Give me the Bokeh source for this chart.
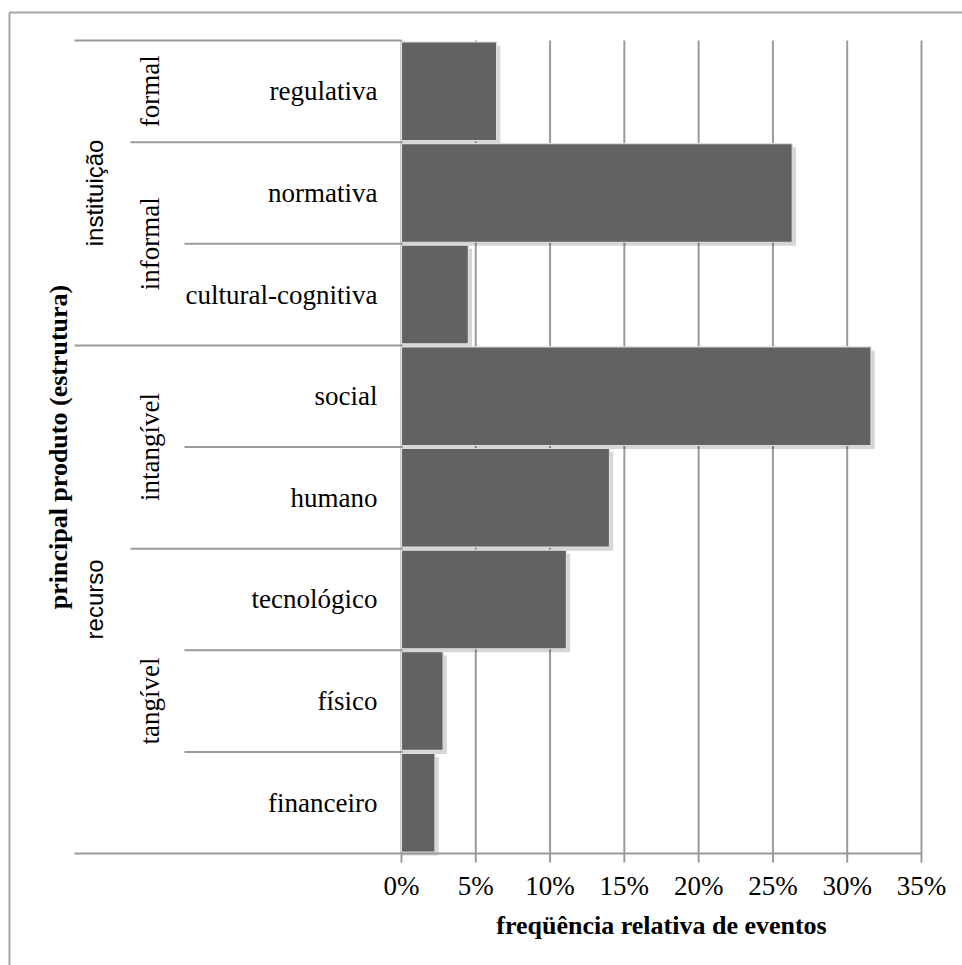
import math
from bokeh.plotting import figure
from bokeh.models import Range1d
from bokeh.core.properties import value
from bokeh.embed import file_html
from bokeh.resources import INLINE

# ---------------- data ----------------
categories = ["regulativa", "normativa", "cultural-cognitiva", "social",
              "humano", "tecnológico", "físico", "financeiro"]
values = [6.4, 26.3, 4.5, 31.6, 14.0, 11.1, 2.8, 2.25]   # % of events
subgroups = ["formal", "informal", "informal", "intangível",
             "intangível", "tangível", "tangível", "tangível"]
groups = ["instituição", "instituição", "instituição",
          "recurso", "recurso", "recurso", "recurso", "recurso"]
tick_values = [0, 5, 10, 15, 20, 25, 30, 35]
tick_labels = ["0%", "5%", "10%", "15%", "20%", "25%", "30%", "35%"]
x_title = "freqüência relativa de eventos"
y_title = "principal produto (estrutura)"

# ---------------- layout (pixels of the 962x965 page) ----------------
W, H = 962, 965
AX_L = 74            # left end of the category area
X0, X35 = 401, 921   # px of 0 % and of the last tick
ROW_T, ROW_B = 40, 853
XMAX = tick_values[-1]
n = len(categories)
ppu = (X35 - X0) / XMAX
ppr = (ROW_B - ROW_T) / n


def dx(px):
    return (px - X0) / ppu


def dy(py):
    return (ROW_B - py) / ppr


GRID = "#9a9a9a"
SERIF = "Liberation Serif"

p = figure(width=W, height=H,
           x_range=Range1d(dx(0), dx(W)), y_range=Range1d(dy(H), dy(0)),
           output_backend="svg", toolbar_location=None,
           x_axis_location=None, y_axis_location=None, min_border=0)
p.outline_line_color = None
p.grid.visible = False
p.background_fill_color = "white"
p.border_fill_color = "white"

# vertical grid lines at the ticks
p.segment(x0=tick_values, y0=[0] * len(tick_values), x1=tick_values,
          y1=[n] * len(tick_values), line_color=GRID, line_width=2)

# bars (shadow + bar)
yc = [n - i - 0.5 for i in range(n)]
p.hbar(y=[y - 0.035 for y in yc], left=0, right=[v + 0.25 for v in values],
       height=0.97, fill_color="black", fill_alpha=0.16, line_color=None)
p.hbar(y=yc, left=0, right=values, height=0.97,
       fill_color="#626262", line_color="#dcdcdc", line_width=1.2)

# separators of the category hierarchy
sx0, sy = [dx(AX_L)], [n]
for i in range(1, n):
    if groups[i] != groups[i - 1]:
        start = AX_L
    elif subgroups[i] != subgroups[i - 1]:
        start = 130
    else:
        start = 184
    sx0.append(dx(start)); sy.append(n - i)
p.segment(x0=sx0, y0=sy, x1=[0] * len(sy), y1=sy, line_color=GRID, line_width=2)

# x axis: line, ticks, labels
p.segment(x0=[dx(AX_L)], y0=[0], x1=[XMAX], y1=[0], line_color=GRID, line_width=2)
p.segment(x0=tick_values, y0=[0] * len(tick_values), x1=tick_values,
          y1=[dy(ROW_B + 9)] * len(tick_values), line_color=GRID, line_width=2)
p.text(x=tick_values, y=[dy(885)] * len(tick_values), text=tick_labels,
       text_align="center", text_baseline="middle", text_font=value(SERIF),
       text_font_size="27px", text_color="black")

# category labels
p.text(x=[dx(377)] * n, y=yc, text=categories, text_align="right",
       text_baseline="middle", text_font=value(SERIF),
       text_font_size="27px", text_color="black")


def runs(seq):
    out = []
    s = 0
    for i in range(1, n + 1):
        if i == n or seq[i] != seq[s]:
            out.append((seq[s], s, i))
            s = i
    return out


sub_runs = runs(subgroups)
p.text(x=[dx(149)] * len(sub_runs), y=[n - (a + b) / 2 for _, a, b in sub_runs],
       text=[t for t, _, _ in sub_runs], angle=math.pi / 2,
       text_align="center", text_baseline="middle", text_font=value(SERIF),
       text_font_size="27px", text_color="black")

grp_runs = runs(groups)
p.text(x=[dx(94)] * len(grp_runs), y=[n - (a + b) / 2 for _, a, b in grp_runs],
       text=[t for t, _, _ in grp_runs], angle=math.pi / 2,
       text_align="center", text_baseline="middle",
       text_font=value("Liberation Sans"),
       text_font_size="24px", text_color="black")

# axis titles
p.text(x=[dx(58)], y=[n / 2], text=[y_title], angle=math.pi / 2,
       text_align="center", text_baseline="middle", text_font=value(SERIF),
       text_font_style="bold", text_font_size="26px", text_color="black")
p.text(x=[XMAX / 2], y=[dy(925)], text=[x_title],
       text_align="center", text_baseline="middle", text_font=value(SERIF),
       text_font_style="bold", text_font_size="26px", text_color="black")

# outer border of the chart area (top and left edges visible)
p.segment(x0=[dx(9), dx(9)], y0=[dy(12), dy(12)], x1=[dx(W), dx(9)],
          y1=[dy(12), dy(H)], line_color="#a6a6a6", line_width=2)

open("out.html", "w").write(file_html(p, INLINE))
